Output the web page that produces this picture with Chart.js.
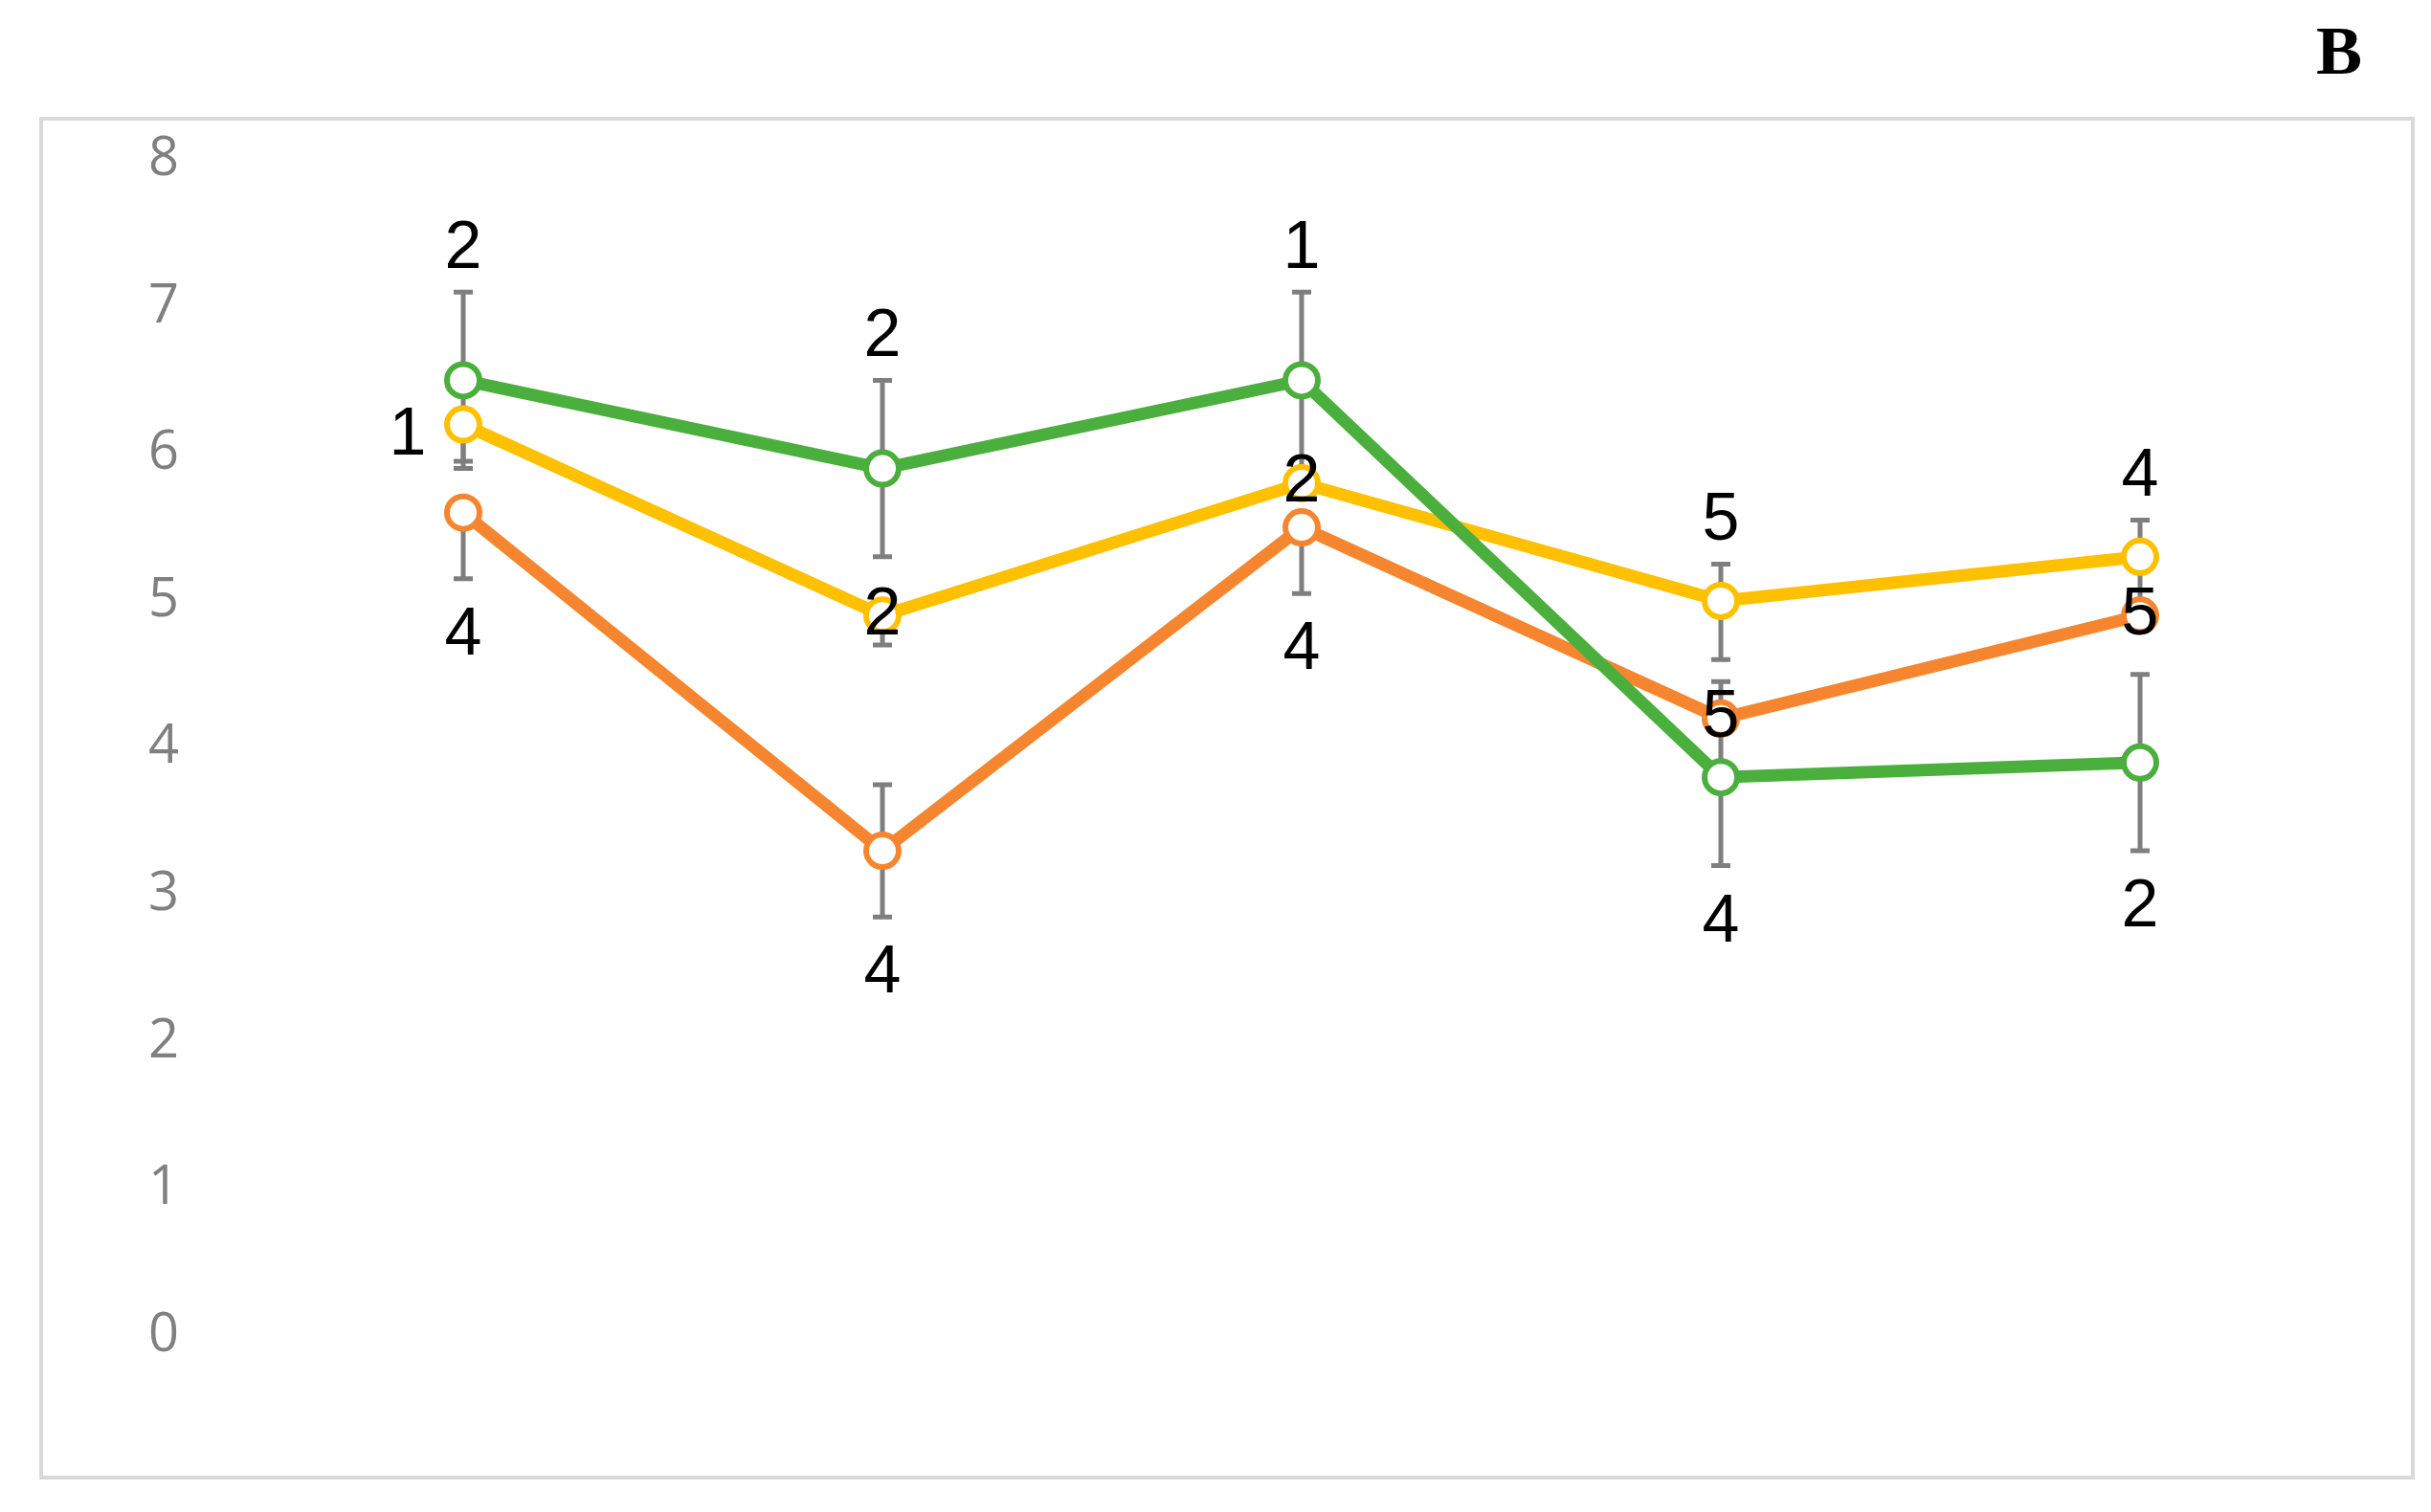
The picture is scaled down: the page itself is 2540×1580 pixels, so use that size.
<!DOCTYPE html>
<html><head><meta charset="utf-8">
<script src="https://cdn.jsdelivr.net/npm/chart.js@4/dist/chart.umd.min.js"></script>
<style>
html,body{margin:0;padding:0;background:#fff;width:2540px;height:1580px;overflow:hidden}
#frame{position:absolute;left:41px;top:122px;width:2474px;height:1416px;border:4px solid #d9d9d9}
#B{position:absolute;left:2420px;top:12px;font:bold 72px "Liberation Serif",serif;color:#000}
#wrap{position:absolute;left:0;top:0;width:2540px;height:1580px}
</style></head><body>
<div id="frame"></div><div id="B">B</div>
<div id="wrap"><canvas id="c" width="2540" height="1580"></canvas></div>
<script>
const categories=["1","2","3","4","5"];
const yTicks=[0,1,2,3,4,5,6,7,8];
const greenVals=[6.5,5.9,6.5,3.8,3.9];
const yellowVals=[6.2,4.9,5.8,5.0,5.3];
const orangeVals=[5.6,3.3,5.5,4.2,4.9];
const greenLo=[5.9,5.3,5.9,3.2,3.3], greenHi=[7.1,6.5,7.1,4.45,4.5];
const yellowLo=[5.95,4.7,null,4.6,5.0], yellowHi=[6.3,5.0,null,5.25,5.55];
const orangeLo=[5.15,2.85,5.05,null,null], orangeHi=[5.6,3.75,5.6,null,null];
const greenLabels=["2","2","1","4","2"], greenPos=["above","above","above","below","below"];
const yellowLabels=["1","2","2","5","4"], yellowPos=["left","center","center","above","above"];
const orangeLabels=["4","4","4","5","5"], orangePos=["below","below","below","center","center"];

const series=[
 {vals:greenVals,lo:greenLo,hi:greenHi,lab:greenLabels,pos:greenPos,color:"#4aaf3c"},
 {vals:yellowVals,lo:yellowLo,hi:yellowHi,lab:yellowLabels,pos:yellowPos,color:"#ffc000"},
 {vals:orangeVals,lo:orangeLo,hi:orangeHi,lab:orangeLabels,pos:orangePos,color:"#f5862f"}
];
const errPlugin={id:"err",
 beforeDatasetsDraw(ch){const c=ch.ctx,x=ch.scales.x,y=ch.scales.y;c.save();c.strokeStyle="#7f7f7f";c.lineWidth=5;
  series.forEach(s=>s.vals.forEach((v,i)=>{if(s.lo[i]==null)return;const px=x.getPixelForValue(i),a=y.getPixelForValue(s.lo[i]),b=y.getPixelForValue(s.hi[i]);
   c.beginPath();c.moveTo(px,a);c.lineTo(px,b);c.moveTo(px-10,a);c.lineTo(px+10,a);c.moveTo(px-10,b);c.lineTo(px+10,b);c.stroke();}));c.restore();},
 afterDatasetsDraw(ch){const c=ch.ctx,x=ch.scales.x,y=ch.scales.y;c.save();c.fillStyle="#000";c.font="70px 'Liberation Sans',Arial";c.textAlign="center";c.textBaseline="middle";
  series.forEach(s=>s.vals.forEach((v,i)=>{let px=x.getPixelForValue(i),py=y.getPixelForValue(v);const p=s.pos[i];
   if(p==="above")py=y.getPixelForValue(s.hi[i]!=null?s.hi[i]:v)-45;
   else if(p==="below")py=y.getPixelForValue(s.lo[i]!=null?s.lo[i]:v)+60;
   else if(p==="left"){px-=58;py+=12;}
   c.fillText(s.lab[i],px,py);}));c.restore();}
};
new Chart(document.getElementById("c"),{type:"line",
 data:{labels:categories,datasets:series.map(s=>({data:s.vals,borderColor:s.color,backgroundColor:"#fff",borderWidth:13,pointRadius:17,pointBorderWidth:6,pointBackgroundColor:"#fff",pointBorderColor:s.color,tension:0}))},
 options:{responsive:false,animation:false,layout:{padding:{left:0,top:167,bottom:184,right:85}},
  plugins:{legend:{display:false},tooltip:{enabled:false}},
  scales:{x:{display:false,offset:true},
   y:{min:0,max:8,afterFit(s){s.width=265;},grid:{display:false},border:{display:false},
    afterBuildTicks(s){s.ticks=yTicks.map(v=>({value:v}));},
    ticks:{color:"#808080",padding:70,font:{size:56,family:"'Open Sans'"}}}}},
 plugins:[errPlugin]});
</script></body></html>
